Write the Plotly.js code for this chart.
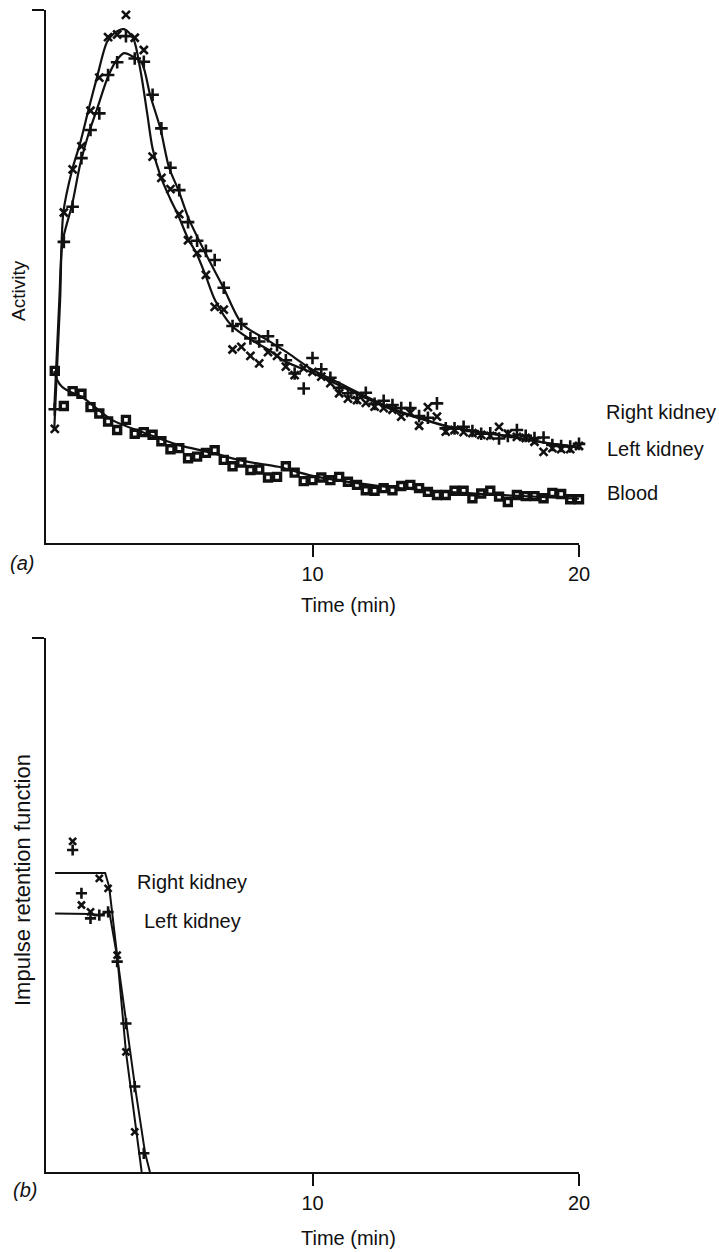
<!DOCTYPE html>
<html>
<head>
<meta charset="utf-8">
<script src="https://cdn.plot.ly/plotly-3.0.1.min.js"></script>
<style>
html,body{margin:0;padding:0;background:#fff;}
#chart{width:719px;height:1252px;}
</style>
</head>
<body>
<div id="chart"></div>
<script>
// ---------- DATA ----------
// (a) renogram: frame times (min)
const frameTimes = [0.33,0.67,1.00,1.33,1.67,2.00,2.33,2.67,3.00,3.33,3.67,4.00,4.33,4.67,5.00,5.33,5.67,6.00,6.33,6.67,
  7.00,7.33,7.67,8.00,8.33,8.67,9.00,9.33,9.67,10.00,10.33,10.67,11.00,11.33,11.67,12.00,12.33,12.67,13.00,13.33,
  13.67,14.00,14.33,14.67,15.00,15.33,15.67,16.00,16.33,16.67,17.00,17.33,17.67,18.00,18.33,18.67,19.00,19.33,19.67,20.00];

// measured activity (relative units, 0-100 axis)
const rightKidneyA = [21.4,62.0,70.1,74.4,81.1,87.3,94.9,95.4,99.1,94.8,92.5,72.5,68.5,66.4,61.7,56.8,54.4,50.3,44.3,43.8,
  36.3,36.8,35.1,33.7,35.8,35.1,33.1,31.5,32.8,32.1,31.2,30.0,28.1,27.1,26.8,26.3,25.6,25.3,25.0,23.7,
  24.4,22.0,25.5,23.7,20.9,21.2,20.8,20.6,20.3,20.1,21.8,20.5,19.9,19.7,19.0,17.1,17.8,17.6,17.6,18.2];
const leftKidneyA = [25.1,56.5,63.1,72.2,77.5,80.6,87.8,90.2,95.1,90.9,90.3,84.1,77.8,70.4,66.2,60.2,56.7,54.8,53.1,47.9,
  40.7,41.1,38.4,37.8,38.8,37.1,34.3,31.8,29.0,34.7,32.6,31.0,29.1,28.1,27.2,28.2,26.1,26.7,25.9,25.3,
  25.3,23.8,23.5,26.2,21.5,21.5,21.8,21.0,20.5,20.6,19.6,20.1,21.2,20.1,19.7,19.8,18.4,18.2,18.1,18.6];
const bloodA = [32.3,25.7,28.5,28.0,25.5,24.3,22.8,21.2,23.1,20.5,20.8,20.3,19.1,17.6,17.8,15.9,16.2,16.9,17.4,15.6,
  14.4,15.1,13.7,13.8,12.3,12.4,14.4,13.2,11.6,11.8,12.3,11.8,12.4,11.5,10.9,9.9,9.8,10.3,9.9,10.7,
  10.9,10.3,9.6,9.0,9.0,9.8,9.8,8.4,9.3,9.8,8.7,7.7,9.0,8.8,8.8,8.4,9.4,9.2,8.2,8.2];

// fitted curves (a)
const rightFitT = [0.31,0.53,0.65,0.98,1.28,1.58,1.92,2.29,2.60,2.93,3.27,3.55,3.80,4.00,4.30,4.66,4.96,5.34,5.64,5.98,
  6.35,6.98,7.67,8.30,9.00,10.0,11.0,12.0,13.0,14.0,15.0,16.0,17.0,18.0,19.0,20.0];
const rightFitV = [21.4,45.6,62.0,70.0,75.0,81.0,87.5,94.0,95.8,96.4,94.7,88.5,80.5,74.0,68.8,64.6,61.5,57.0,54.4,50.3,
  45.5,40.7,38.2,36.4,34.0,31.9,29.6,27.2,25.0,23.4,21.9,21.0,20.3,19.5,18.6,18.0];
const leftFitT = [0.31,0.50,0.62,0.98,1.28,1.58,1.92,2.29,2.60,2.93,3.28,3.60,3.91,4.29,4.62,4.97,5.35,5.94,6.66,7.36,
  8.30,9.00,10.0,11.0,12.0,13.0,14.0,15.0,16.0,17.0,18.0,19.0,20.0];
const leftFitV = [25.1,45.6,56.5,63.5,71.0,76.5,81.5,87.0,90.2,91.9,91.2,90.0,84.0,77.8,70.4,66.2,60.9,54.8,47.9,41.1,
  38.1,35.9,32.5,30.0,27.5,25.2,23.5,22.0,21.0,20.3,19.4,18.6,18.0];
const bloodFitT = [0.31,0.42,0.60,0.85,1.35,2.47,3.72,4.96,6.23,7.48,8.72,10.0,12.5,15.0,17.5,20.0];
const bloodFitV = [32.3,30.6,29.3,28.5,27.4,23.1,20.6,18.4,16.9,15.3,14.3,12.6,10.7,9.6,8.9,8.3];

// (b) impulse retention function
const rightIrfT = [1.00,1.33,1.67,2.00,2.33,2.67,3.00,3.33];
const rightIrfV = [61.9,50.0,48.7,55.0,53.1,40.6,22.5,7.5];
const leftIrfT = [1.00,1.33,1.67,2.00,2.33,2.67,3.00,3.33,3.67];
const leftIrfV = [60.3,52.2,47.5,48.1,48.7,39.4,27.8,16.0,3.5];
const rightIrfFitT = [0.34,2.22,2.37,2.68,3.00,3.41,3.59];
const rightIrfFitV = [56.0,56.0,53.4,40.1,22.5,7.5,0];
const leftIrfFitT = [0.34,1.65,2.03,2.37,2.68,3.00,3.34,3.72,3.90];
const leftIrfFitV = [48.4,48.3,48.1,48.9,40.0,27.9,16.0,3.5,0];

// tick labels & texts
const xTickVals = [10, 20];
const xTickText = ['10', '20'];
const seriesNames = ['Right kidney', 'Left kidney', 'Blood'];

// ---------- LAYOUT HELPERS ----------
const W = 719, H = 1252;
const M = {l: 46, r: 140, t: 10, b: 80};
const PW = W - M.l - M.r, PH = H - M.t - M.b;
const fx = px => (px - M.l) / PW;
const fy = py => (H - M.b - py) / PH;
const FONT = 'Liberation Sans, Arial, Helvetica, sans-serif';
const INK = '#111';

const lineStyle = {color: INK, width: 2.2};
const xMarker = {symbol: 'x-thin', size: 8, color: INK, line: {color: INK, width: 2.6}};
const plusMarker = {symbol: 'cross-thin', size: 9, color: INK, line: {color: INK, width: 2.6}};
const sqMarker = {symbol: 'square-open', size: 7, color: INK, line: {color: INK, width: 3.4}};

const traces = [
  // (a) fits
  {x: rightFitT, y: rightFitV, mode: 'lines', line: Object.assign({shape: 'spline', smoothing: 0.8}, lineStyle), name: seriesNames[0] + ' fit', xaxis: 'x', yaxis: 'y', hoverinfo: 'skip'},
  {x: leftFitT, y: leftFitV, mode: 'lines', line: Object.assign({shape: 'spline', smoothing: 0.8}, lineStyle), name: seriesNames[1] + ' fit', xaxis: 'x', yaxis: 'y', hoverinfo: 'skip'},
  {x: bloodFitT, y: bloodFitV, mode: 'lines', line: Object.assign({shape: 'spline', smoothing: 0.8}, lineStyle), name: seriesNames[2] + ' fit', xaxis: 'x', yaxis: 'y', hoverinfo: 'skip'},
  // (a) data
  {x: frameTimes, y: bloodA, mode: 'markers', marker: sqMarker, name: seriesNames[2], xaxis: 'x', yaxis: 'y', cliponaxis: false},
  {x: frameTimes, y: leftKidneyA, mode: 'markers', marker: plusMarker, name: seriesNames[1], xaxis: 'x', yaxis: 'y', cliponaxis: false},
  {x: frameTimes, y: rightKidneyA, mode: 'markers', marker: xMarker, name: seriesNames[0], xaxis: 'x', yaxis: 'y', cliponaxis: false},
  // (b) fits
  {x: rightIrfFitT, y: rightIrfFitV, mode: 'lines', line: {color: INK, width: 2}, name: seriesNames[0] + ' fit', xaxis: 'x2', yaxis: 'y2', hoverinfo: 'skip'},
  {x: leftIrfFitT, y: leftIrfFitV, mode: 'lines', line: {color: INK, width: 2}, name: seriesNames[1] + ' fit', xaxis: 'x2', yaxis: 'y2', hoverinfo: 'skip'},
  // (b) data
  {x: leftIrfT, y: leftIrfV, mode: 'markers', marker: Object.assign({}, plusMarker, {size: 8}), name: seriesNames[1], xaxis: 'x2', yaxis: 'y2', cliponaxis: false},
  {x: rightIrfT, y: rightIrfV, mode: 'markers', marker: Object.assign({}, xMarker, {size: 7}), name: seriesNames[0], xaxis: 'x2', yaxis: 'y2', cliponaxis: false}
];

const xAxisBase = {
  range: [0, 20], showline: true, linewidth: 2, linecolor: INK, showgrid: false, zeroline: false,
  ticks: 'outside', ticklen: 12, tickwidth: 2, tickcolor: INK,
  tickvals: xTickVals, ticktext: xTickText, tickfont: {family: FONT, size: 20, color: INK}, fixedrange: true
};
const yAxisBase = {
  range: [0, 100], showline: true, linewidth: 2, linecolor: INK, showgrid: false, zeroline: false,
  ticks: 'outside', ticklen: 12, tickwidth: 2, tickcolor: INK,
  tickvals: [100], showticklabels: false, fixedrange: true
};

function ann(text, px, py, opts) {
  return Object.assign({
    text: text, xref: 'paper', yref: 'paper', x: fx(px), y: fy(py),
    xanchor: 'center', yanchor: 'middle', showarrow: false,
    font: {family: FONT, size: 20, color: INK}
  }, opts || {});
}

const annotations = [
  ann('Activity', 18, 290, {textangle: -90, font: {family: FONT, size: 19, color: INK}}),
  ann('<i>(a)</i>', 22, 563),
  ann('Time (min)', 348, 605),
  ann(seriesNames[0], 604, 412, {xanchor: 'left'}),
  ann(seriesNames[1], 605, 449, {xanchor: 'left'}),
  ann(seriesNames[2], 605, 493, {xanchor: 'left'}),
  ann('Impulse retention function', 22, 880, {textangle: -90, font: {family: FONT, size: 22, color: INK}}),
  ann('<i>(b)</i>', 25, 1190),
  ann('Time (min)', 348, 1238),
  ann(seriesNames[0], 135, 882, {xanchor: 'left'}),
  ann(seriesNames[1], 142, 921, {xanchor: 'left'})
];

const layout = {
  width: W, height: H,
  margin: M,
  paper_bgcolor: '#fff', plot_bgcolor: '#fff',
  showlegend: false,
  font: {family: FONT, color: INK},
  xaxis: Object.assign({}, xAxisBase, {domain: [0, 1], anchor: 'y'}),
  yaxis: Object.assign({}, yAxisBase, {domain: [fy(543), fy(10)], anchor: 'x'}),
  xaxis2: Object.assign({}, xAxisBase, {domain: [0, 1], anchor: 'y2'}),
  yaxis2: Object.assign({}, yAxisBase, {domain: [0, fy(638)], anchor: 'x2'}),
  annotations: annotations
};

Plotly.newPlot('chart', traces, layout, {staticPlot: true, displayModeBar: false});
</script>
</body>
</html>
